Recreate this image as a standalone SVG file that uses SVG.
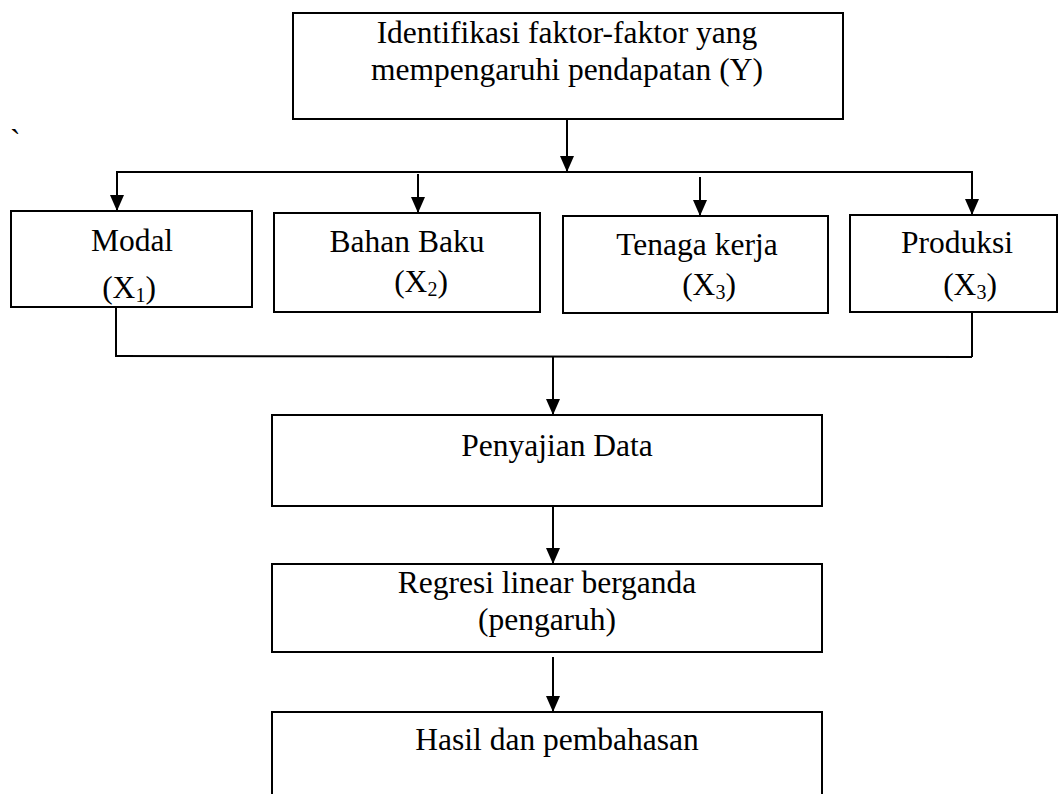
<svg xmlns="http://www.w3.org/2000/svg" width="1059" height="794" viewBox="0 0 1059 794">
<style>
.box{fill:#fff;stroke:#000;stroke-width:2}
.t{font-family:"Liberation Serif","Times New Roman",serif;font-size:31.5px;fill:#000;text-anchor:middle}
.c{fill:none;stroke:#000;stroke-width:2}
</style>
<defs>
<marker id="ah" markerUnits="userSpaceOnUse" markerWidth="16" markerHeight="14" viewBox="0 0 16 14" refX="16" refY="7" orient="auto">
<path d="M0,0 L16,7 L0,14 Z" fill="#000"/>
</marker>
</defs>
<rect width="1059" height="794" fill="#fff"/>
<text x="10" y="151" class="t" style="text-anchor:start">`</text>
<g id="n-identifikasi">
<rect class="box" x="293" y="13" width="550" height="106"/>
<text class="t" x="567" y="43">Identifikasi faktor-faktor yang</text>
<text class="t" x="567" y="80">mempengaruhi pendapatan (Y)</text>
</g>
<g id="n-modal">
<rect class="box" x="11" y="211" width="241" height="96"/>
<text class="t" x="132" y="251">Modal</text>
<text class="t" x="129" y="298">(X<tspan font-size="20" dy="4">1</tspan><tspan dy="-4">)</tspan></text>
</g>
<g id="n-bahan">
<rect class="box" x="274" y="213" width="266" height="99"/>
<text class="t" x="407" y="252">Bahan Baku</text>
<text class="t" x="421" y="292">(X<tspan font-size="20" dy="4">2</tspan><tspan dy="-4">)</tspan></text>
</g>
<g id="n-tenaga">
<rect class="box" x="563" y="216" width="265" height="97"/>
<text class="t" x="697" y="255">Tenaga kerja</text>
<text class="t" x="709" y="295">(X<tspan font-size="20" dy="4">3</tspan><tspan dy="-4">)</tspan></text>
</g>
<g id="n-produksi">
<rect class="box" x="850" y="215" width="207" height="97"/>
<text class="t" x="957" y="253">Produksi</text>
<text class="t" x="970" y="295">(X<tspan font-size="20" dy="4">3</tspan><tspan dy="-4">)</tspan></text>
</g>
<g id="n-penyajian">
<rect class="box" x="272" y="415" width="550" height="91"/>
<text class="t" x="557" y="456">Penyajian Data</text>
</g>
<g id="n-regresi">
<rect class="box" x="272" y="564" width="550" height="88"/>
<text class="t" x="547" y="593">Regresi linear berganda</text>
<text class="t" x="547" y="630">(pengaruh)</text>
</g>
<g id="n-hasil">
<rect class="box" x="272" y="712" width="550" height="100"/>
<text class="t" x="557" y="750">Hasil dan pembahasan</text>
</g>
<g id="connectors">
<line class="c" x1="567" y1="119" x2="567" y2="172" marker-end="url(#ah)"/>
<line class="c" x1="116" y1="172" x2="973" y2="172"/>
<line class="c" x1="117" y1="172" x2="117" y2="211" marker-end="url(#ah)"/>
<line class="c" x1="418" y1="174" x2="418" y2="213" marker-end="url(#ah)"/>
<line class="c" x1="700" y1="177" x2="700" y2="216" marker-end="url(#ah)"/>
<line class="c" x1="972" y1="172" x2="972" y2="215" marker-end="url(#ah)"/>
<line class="c" x1="116" y1="307" x2="116" y2="356"/>
<line class="c" x1="972" y1="312" x2="972" y2="357"/>
<line class="c" x1="115" y1="356" x2="972" y2="357"/>
<line class="c" x1="553" y1="357" x2="553" y2="415" marker-end="url(#ah)"/>
<line class="c" x1="553" y1="506" x2="553" y2="564" marker-end="url(#ah)"/>
<line class="c" x1="553" y1="657" x2="553" y2="712" marker-end="url(#ah)"/>
</g>
</svg>
